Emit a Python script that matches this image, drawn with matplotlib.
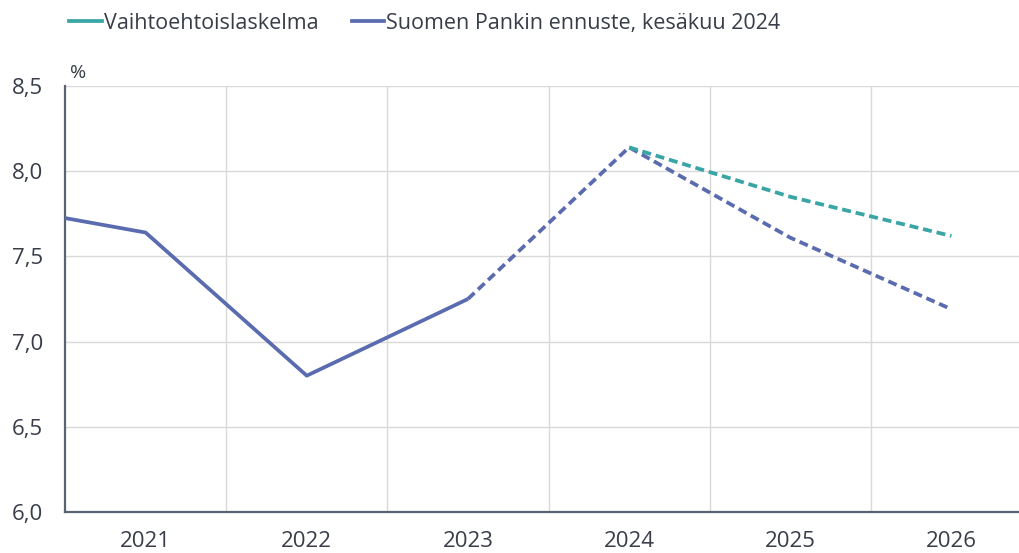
import matplotlib
matplotlib.use("Agg")
import matplotlib.pyplot as plt
from matplotlib.lines import Line2D

years = [2020, 2021, 2022, 2023, 2024, 2025, 2026]
actual_years = [2020, 2021, 2022, 2023]
actual_values = [7.81, 7.64, 6.80, 7.25]
forecast_years = [2023, 2024, 2025, 2026]
forecast_values = [7.25, 8.14, 7.61, 7.19]
alt_years = [2024, 2025, 2026]
alt_values = [8.14, 7.85, 7.62]
tick_years = [2021, 2022, 2023, 2024, 2025, 2026]
y_ticks = [6.0, 6.5, 7.0, 7.5, 8.0, 8.5]
y_labels = ["6,0", "6,5", "7,0", "7,5", "8,0", "8,5"]

BLUE = "#5a6caf"
TEAL = "#3aa5a5"
TEXT = "#383d49"
SPINE = "#5b6272"
GRID = "#d9d9d9"

plt.rcParams['font.family'] = ['Open Sans', 'DejaVu Sans']

fig = plt.figure(figsize=(10.19, 5.53), dpi=100)
ax = fig.add_axes([65/1019, 1-512/553, (1032-65)/1019, (512-86)/553])

dash = (0, (2.4, 1.3))
ax.plot(actual_years, actual_values, color=BLUE, lw=2.7, solid_capstyle='butt', zorder=3)
ax.plot(forecast_years, forecast_values, color=BLUE, lw=2.7, linestyle=dash, zorder=3)
ax.plot(alt_years, alt_values, color=TEAL, lw=2.7, linestyle=dash, zorder=4)

ax.set_xlim(2020.5, 2026.5)
ax.set_ylim(6.0, 8.5)
ax.set_yticks(y_ticks)
ax.set_yticklabels(y_labels)
ax.set_xticks(tick_years)
ax.set_xticklabels([str(y) for y in tick_years])
ax.set_xticks([y + 0.5 for y in tick_years[:-1]], minor=True)

ax.grid(True, axis='y', which='major', color=GRID, lw=1.0, zorder=0)
ax.grid(True, axis='x', which='minor', color=GRID, lw=1.0, zorder=0)
ax.grid(False, axis='x', which='major')

for s in ['top', 'right']:
    ax.spines[s].set_visible(False)
for s in ['left', 'bottom']:
    ax.spines[s].set_color(SPINE)
    ax.spines[s].set_linewidth(1.6)

ax.tick_params(axis='both', which='both', length=0, labelsize=16, colors=TEXT)
ax.tick_params(axis='y', pad=16)
ax.tick_params(axis='x', pad=14)

ax.text(0.005, 1.01, "%", transform=ax.transAxes, fontsize=14, color=TEXT,
        ha='left', va='bottom')

handles = [Line2D([], [], color=TEAL, lw=2.7), Line2D([], [], color=BLUE, lw=2.7)]
fig.legend(handles, ["Vaihtoehtoislaskelma", "Suomen Pankin ennuste, kesäkuu 2024"],
           loc='upper left', bbox_to_anchor=(0.049, 1.012), ncol=2, frameon=False,
           fontsize=15.5, handlelength=1.5, handletextpad=0.1, columnspacing=1.55,
           labelcolor=TEXT)

fig.savefig("out.png", dpi=100)
